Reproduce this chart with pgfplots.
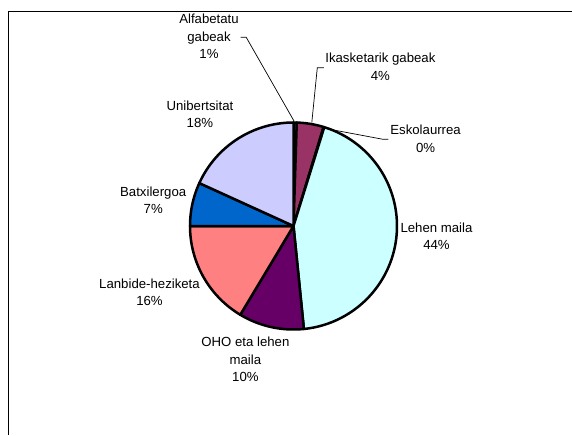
\documentclass[border=0pt]{standalone}
\usepackage{fontspec}
\setmainfont{Liberation Sans}
\usepackage{pgfplots}
\pgfplotsset{compat=1.18}
\definecolor{cA}{HTML}{9999FF}
\definecolor{cB}{HTML}{993366}
\definecolor{cC}{HTML}{FFFFCC}
\definecolor{cD}{HTML}{CCFFFF}
\definecolor{cE}{HTML}{660066}
\definecolor{cF}{HTML}{FF8080}
\definecolor{cG}{HTML}{0066CC}
\definecolor{cH}{HTML}{CCCCFF}
% Shares (%), clockwise from the top:
% Alfabetatu gabeak 0.5, Ikasketarik gabeak 4.2, Eskolaurrea 0.1, Lehen maila 43.6,
% OHO eta lehen maila 10.2, Lanbide-heziketa 16.4, Batxilergoa 6.8, Unibertsitat 18.2
\begin{document}
\begin{tikzpicture}
\begin{axis}[scale only axis, width=572pt, height=435pt,
  xmin=0, xmax=572, ymin=0, ymax=435, y dir=reverse,
  hide axis, clip=false]
\path (0,0) rectangle (572,435);
% frame
\draw[black, line width=0.9pt] (8,435) -- (8,11.7) -- (571.5,11.7);
% slices (cumulative shares c -> angle 90-3.6c)
\pgfplotsset{slice/.style={draw=black, line width=2.5pt, line join=round}}
\addplot[slice, fill=cA, samples=4, domain={90-3.6*0.5}:{90-3.6*0}]
  ({293.5+103.5*cos(x)},{226-103.5*sin(x)}) -- (293.5,226) -- cycle;
\addplot[slice, fill=cB, samples=10, domain={90-3.6*4.7}:{90-3.6*0.5}]
  ({293.5+103.5*cos(x)},{226-103.5*sin(x)}) -- (293.5,226) -- cycle;
\addplot[slice, fill=cC, samples=3, domain={90-3.6*4.8}:{90-3.6*4.7}]
  ({293.5+103.5*cos(x)},{226-103.5*sin(x)}) -- (293.5,226) -- cycle;
\addplot[slice, fill=cD, samples=80, domain={90-3.6*48.4}:{90-3.6*4.8}]
  ({293.5+103.5*cos(x)},{226-103.5*sin(x)}) -- (293.5,226) -- cycle;
\addplot[slice, fill=cE, samples=25, domain={90-3.6*58.6}:{90-3.6*48.4}]
  ({293.5+103.5*cos(x)},{226-103.5*sin(x)}) -- (293.5,226) -- cycle;
\addplot[slice, fill=cF, samples=35, domain={90-3.6*75.0}:{90-3.6*58.6}]
  ({293.5+103.5*cos(x)},{226-103.5*sin(x)}) -- (293.5,226) -- cycle;
\addplot[slice, fill=cG, samples=15, domain={90-3.6*81.8}:{90-3.6*75.0}]
  ({293.5+103.5*cos(x)},{226-103.5*sin(x)}) -- (293.5,226) -- cycle;
\addplot[slice, fill=cH, samples=40, domain={90-3.6*100}:{90-3.6*81.8}]
  ({293.5+103.5*cos(x)},{226-103.5*sin(x)}) -- (293.5,226) -- cycle;
% leader lines
\draw[black, line width=0.7pt] (240.7,37.3) -- (246.2,37.3) -- (294,121);
\draw[black, line width=0.7pt] (323.9,67.7) -- (317.3,67.7) -- (311.8,122.5);
\draw[black, line width=0.7pt] (388.4,139.3) -- (383,139.3) -- (325.5,128.5);
% labels
\tikzset{lbl/.style={align=center, inner sep=0pt, font=\fontsize{13.2}{17.5}\selectfont}}
\node[lbl] at (209,36.3) {Alfabetatu\\gabeak\\1\%};
\node[lbl] at (380.4,67) {Ikasketarik gabeak\\4\%};
\node[lbl] at (199.9,114.5) {Unibertsitat\\18\%};
\node[lbl] at (425.6,138.8) {Eskolaurrea\\0\%};
\node[lbl] at (153.2,200.2) {Batxilergoa\\7\%};
\node[lbl] at (436.5,236.3) {Lehen maila\\44\%};
\node[lbl] at (149.5,292.2) {Lanbide-heziketa\\16\%};
\node[lbl] at (245.4,359.5) {OHO eta lehen\\maila\\10\%};
\end{axis}
\end{tikzpicture}
\end{document}
